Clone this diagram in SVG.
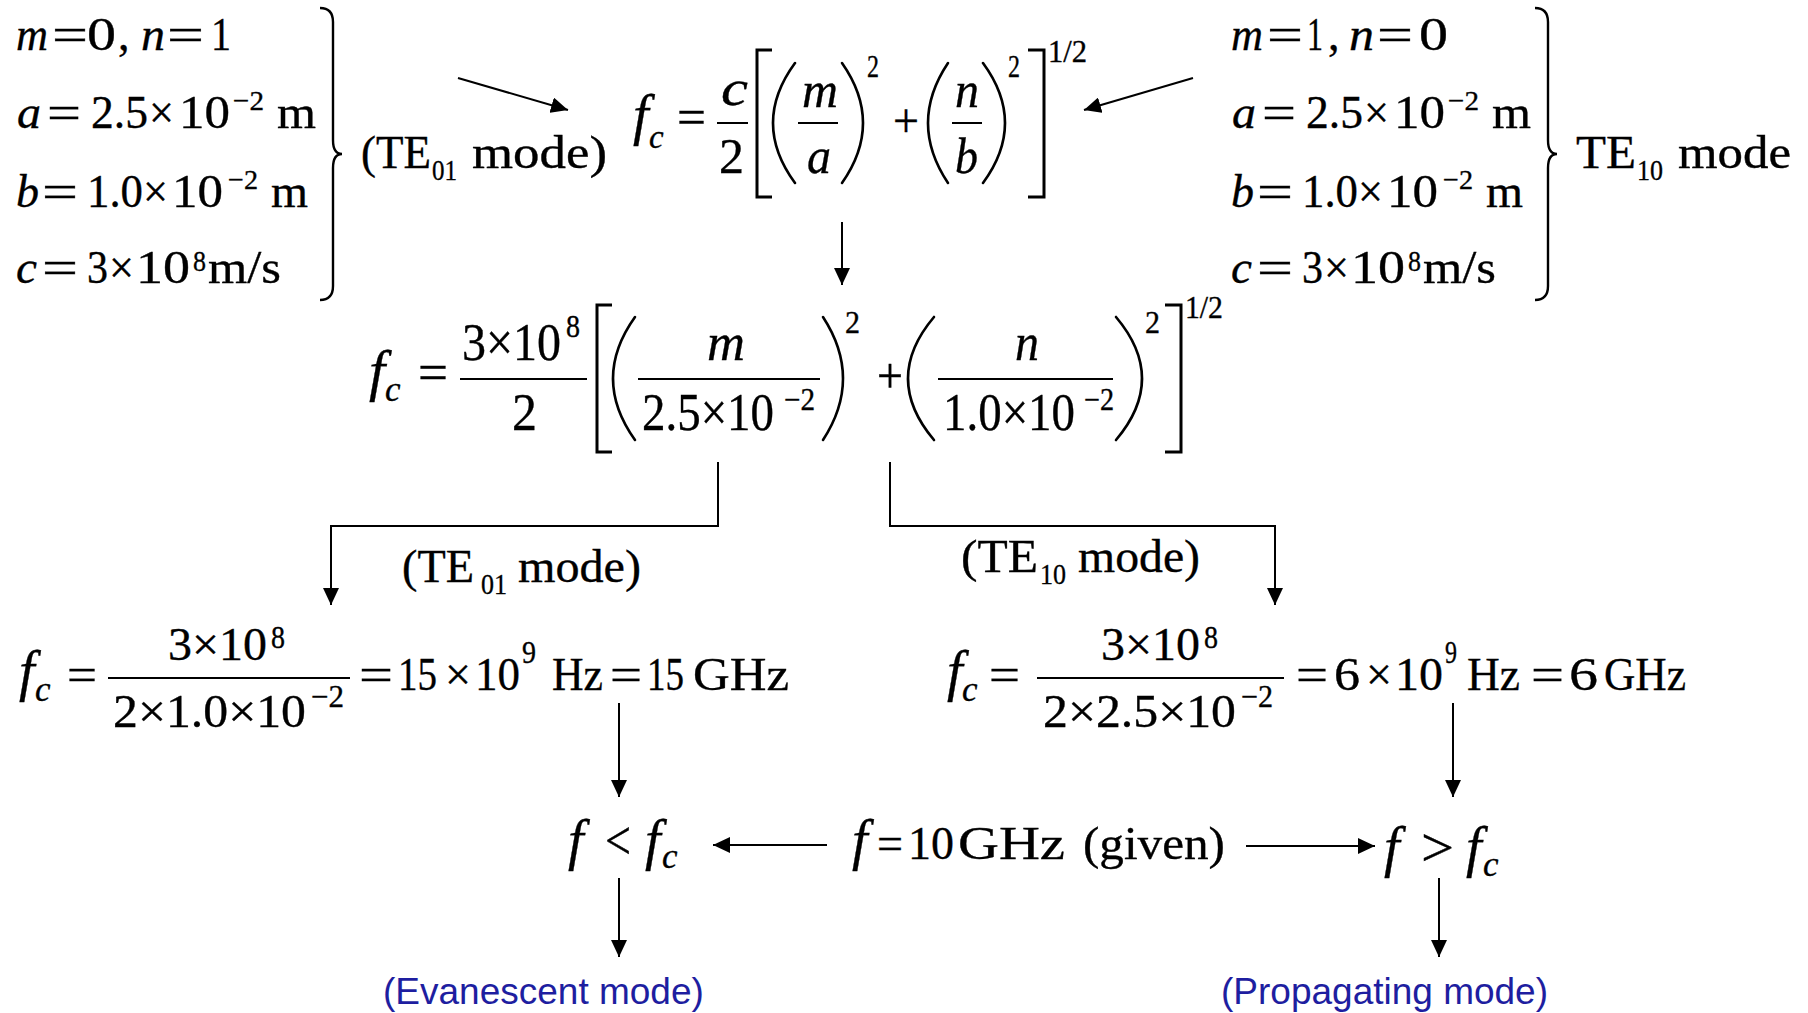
<svg xmlns="http://www.w3.org/2000/svg" width="1808" height="1013" viewBox="0 0 1808 1013">
<style>
.s{font-family:"Liberation Serif","Times New Roman",serif;fill:#000;stroke:#000;stroke-width:0.35}
.i{font-style:italic}
.blue{font-family:"Liberation Sans",Arial,sans-serif;fill:#1e1ea0;font-size:37px}
.ln{stroke:#000;stroke-width:2;fill:none}
.br{stroke:#000;stroke-width:3;fill:none}
.pa{stroke:#000;stroke-width:2.6;fill:none;stroke-linecap:round}
.bc{stroke:#000;stroke-width:2.4;fill:none}
</style>
<defs>
<marker id="ah" viewBox="0 0 17 16" refX="17" refY="8" markerWidth="17" markerHeight="16" markerUnits="userSpaceOnUse" orient="auto">
<path d="M0,0 L17,8 L0,16 z" fill="#000" stroke="none"/>
</marker>
</defs>
<rect width="1808" height="1013" fill="#fff"/>

<g id="params-te01" class="s" font-size="46">
<text x="16" y="50" class="i" textLength="32" lengthAdjust="spacingAndGlyphs">m</text>
<text x="52" y="50" textLength="36" lengthAdjust="spacingAndGlyphs">=</text>
<text x="87" y="50" textLength="29" lengthAdjust="spacingAndGlyphs">0</text>
<text x="118" y="50">,</text>
<text x="141" y="50" class="i" textLength="24" lengthAdjust="spacingAndGlyphs">n</text>
<text x="167" y="50" textLength="37" lengthAdjust="spacingAndGlyphs">=</text>
<text x="211" y="50" textLength="20" lengthAdjust="spacingAndGlyphs">1</text>
<text x="17" y="128" class="i" textLength="24" lengthAdjust="spacingAndGlyphs">a</text>
<text x="47" y="128" textLength="34" lengthAdjust="spacingAndGlyphs">=</text>
<text x="91" y="128" textLength="57" lengthAdjust="spacingAndGlyphs">2.5</text>
<text x="149" y="128" textLength="25" lengthAdjust="spacingAndGlyphs">×</text>
<text x="179" y="128" textLength="51" lengthAdjust="spacingAndGlyphs">10</text>
<text x="233" y="110" font-size="28" textLength="31" lengthAdjust="spacingAndGlyphs">−2</text>
<text x="277" y="128" textLength="39" lengthAdjust="spacingAndGlyphs">m</text>
<text x="16" y="207" class="i" textLength="23" lengthAdjust="spacingAndGlyphs">b</text>
<text x="42" y="207" textLength="36" lengthAdjust="spacingAndGlyphs">=</text>
<text x="87" y="207" textLength="56" lengthAdjust="spacingAndGlyphs">1.0</text>
<text x="143" y="207" textLength="25" lengthAdjust="spacingAndGlyphs">×</text>
<text x="172" y="207" textLength="51" lengthAdjust="spacingAndGlyphs">10</text>
<text x="228" y="189" font-size="28" textLength="30" lengthAdjust="spacingAndGlyphs">−2</text>
<text x="271" y="207" textLength="37" lengthAdjust="spacingAndGlyphs">m</text>
<text x="16" y="283" class="i" textLength="21" lengthAdjust="spacingAndGlyphs">c</text>
<text x="42" y="283" textLength="36" lengthAdjust="spacingAndGlyphs">=</text>
<text x="87" y="283" textLength="21" lengthAdjust="spacingAndGlyphs">3</text>
<text x="109" y="283" textLength="25" lengthAdjust="spacingAndGlyphs">×</text>
<text x="136" y="283" textLength="54" lengthAdjust="spacingAndGlyphs">10</text>
<text x="193" y="271" font-size="30" textLength="13" lengthAdjust="spacingAndGlyphs">8</text>
<text x="208" y="283" textLength="73" lengthAdjust="spacingAndGlyphs">m/s</text>
<path class="bc" d="M320,8 Q333,8 333,22 L333,140 Q333,154 342,154 Q333,154 333,168 L333,286 Q333,300 320,300"/>
<text x="361" y="168" textLength="70" lengthAdjust="spacingAndGlyphs">(TE</text>
<text x="432" y="180" font-size="30" textLength="25" lengthAdjust="spacingAndGlyphs">01</text>
<text x="472" y="168" textLength="135" lengthAdjust="spacingAndGlyphs">mode)</text>
</g>

<g id="params-te10" class="s" font-size="46">
<text x="1231" y="50" class="i" textLength="32" lengthAdjust="spacingAndGlyphs">m</text>
<text x="1267" y="50" textLength="36" lengthAdjust="spacingAndGlyphs">=</text>
<text x="1307" y="50" textLength="16" lengthAdjust="spacingAndGlyphs">1</text>
<text x="1328" y="50">,</text>
<text x="1349" y="50" class="i" textLength="25" lengthAdjust="spacingAndGlyphs">n</text>
<text x="1377" y="50" textLength="36" lengthAdjust="spacingAndGlyphs">=</text>
<text x="1419" y="50" textLength="29" lengthAdjust="spacingAndGlyphs">0</text>
<g transform="translate(1215,0)">
<text x="17" y="128" class="i" textLength="24" lengthAdjust="spacingAndGlyphs">a</text>
<text x="47" y="128" textLength="34" lengthAdjust="spacingAndGlyphs">=</text>
<text x="91" y="128" textLength="57" lengthAdjust="spacingAndGlyphs">2.5</text>
<text x="149" y="128" textLength="25" lengthAdjust="spacingAndGlyphs">×</text>
<text x="179" y="128" textLength="51" lengthAdjust="spacingAndGlyphs">10</text>
<text x="233" y="110" font-size="28" textLength="31" lengthAdjust="spacingAndGlyphs">−2</text>
<text x="277" y="128" textLength="39" lengthAdjust="spacingAndGlyphs">m</text>
<text x="16" y="207" class="i" textLength="23" lengthAdjust="spacingAndGlyphs">b</text>
<text x="42" y="207" textLength="36" lengthAdjust="spacingAndGlyphs">=</text>
<text x="87" y="207" textLength="56" lengthAdjust="spacingAndGlyphs">1.0</text>
<text x="143" y="207" textLength="25" lengthAdjust="spacingAndGlyphs">×</text>
<text x="172" y="207" textLength="51" lengthAdjust="spacingAndGlyphs">10</text>
<text x="228" y="189" font-size="28" textLength="30" lengthAdjust="spacingAndGlyphs">−2</text>
<text x="271" y="207" textLength="37" lengthAdjust="spacingAndGlyphs">m</text>
<text x="16" y="283" class="i" textLength="21" lengthAdjust="spacingAndGlyphs">c</text>
<text x="42" y="283" textLength="36" lengthAdjust="spacingAndGlyphs">=</text>
<text x="87" y="283" textLength="21" lengthAdjust="spacingAndGlyphs">3</text>
<text x="109" y="283" textLength="25" lengthAdjust="spacingAndGlyphs">×</text>
<text x="136" y="283" textLength="54" lengthAdjust="spacingAndGlyphs">10</text>
<text x="193" y="271" font-size="30" textLength="13" lengthAdjust="spacingAndGlyphs">8</text>
<text x="208" y="283" textLength="73" lengthAdjust="spacingAndGlyphs">m/s</text>
<path class="bc" d="M320,8 Q333,8 333,22 L333,140 Q333,154 342,154 Q333,154 333,168 L333,286 Q333,300 320,300"/>
</g>
<text x="1576" y="168" textLength="60" lengthAdjust="spacingAndGlyphs">TE</text>
<text x="1637" y="180" font-size="30" textLength="26" lengthAdjust="spacingAndGlyphs">10</text>
<text x="1678" y="168" textLength="113" lengthAdjust="spacingAndGlyphs">mode</text>
</g>

<g id="formula-general" class="s" font-size="51">
<text x="633" y="134" class="i" font-size="56">f</text>
<text x="649" y="148" class="i" font-size="33">c</text>
<text x="677" y="134" textLength="29" lengthAdjust="spacingAndGlyphs">=</text>
<text x="721" y="105" class="i" textLength="27" lengthAdjust="spacingAndGlyphs">c</text>
<line class="ln" x1="717" y1="123" x2="748" y2="123"/>
<text x="719" y="173" textLength="25" lengthAdjust="spacingAndGlyphs">2</text>
<path class="br" d="M772,50 H757 V197 H772"/>
<path class="pa" d="M795,63 Q751,123 795,183"/>
<text x="802" y="107" class="i" textLength="36" lengthAdjust="spacingAndGlyphs">m</text>
<line class="ln" x1="798" y1="123" x2="838" y2="123"/>
<text x="807" y="173" class="i" textLength="24" lengthAdjust="spacingAndGlyphs">a</text>
<path class="pa" d="M842,63 Q884,123 842,183"/>
<text x="867" y="77" font-size="32" textLength="12" lengthAdjust="spacingAndGlyphs">2</text>
<text x="893" y="137" font-size="48" textLength="26" lengthAdjust="spacingAndGlyphs">+</text>
<path class="pa" d="M948,63 Q908,123 948,183"/>
<text x="955" y="107" class="i" textLength="24" lengthAdjust="spacingAndGlyphs">n</text>
<line class="ln" x1="952" y1="123" x2="982" y2="123"/>
<text x="955" y="173" class="i" textLength="23" lengthAdjust="spacingAndGlyphs">b</text>
<path class="pa" d="M983,63 Q1027,123 983,183"/>
<text x="1008" y="77" font-size="32" textLength="12" lengthAdjust="spacingAndGlyphs">2</text>
<path class="br" d="M1028,50 H1044 V197 H1028"/>
<text x="1048" y="62" font-size="31" textLength="39" lengthAdjust="spacingAndGlyphs">1/2</text>
</g>

<g id="formula-substituted" class="s" font-size="53">
<text x="369" y="390" class="i" font-size="58">f</text>
<text x="385" y="401" class="i" font-size="35">c</text>
<text x="418" y="390" textLength="30" lengthAdjust="spacingAndGlyphs">=</text>
<text x="462" y="360" textLength="99" lengthAdjust="spacingAndGlyphs">3×10</text>
<text x="566" y="337" font-size="31" textLength="14" lengthAdjust="spacingAndGlyphs">8</text>
<line class="ln" x1="460" y1="379" x2="587" y2="379"/>
<text x="512" y="430" textLength="25" lengthAdjust="spacingAndGlyphs">2</text>
<path class="br" d="M612,305 H597 V452 H612"/>
<path class="pa" d="M635,317 Q591,378.5 635,440"/>
<text x="707" y="360" class="i" textLength="38" lengthAdjust="spacingAndGlyphs">m</text>
<line class="ln" x1="638" y1="379" x2="820" y2="379"/>
<text x="642" y="430" textLength="132" lengthAdjust="spacingAndGlyphs">2.5×10</text>
<text x="784" y="410" font-size="31" textLength="31" lengthAdjust="spacingAndGlyphs">−2</text>
<path class="pa" d="M823,317 Q863,378.5 823,440"/>
<text x="845" y="333" font-size="31" textLength="15" lengthAdjust="spacingAndGlyphs">2</text>
<text x="877" y="393" font-size="50" textLength="26" lengthAdjust="spacingAndGlyphs">+</text>
<path class="pa" d="M934,317 Q882,378.5 934,440"/>
<text x="1015" y="360" class="i" textLength="24" lengthAdjust="spacingAndGlyphs">n</text>
<line class="ln" x1="938" y1="379" x2="1113" y2="379"/>
<text x="943" y="430" textLength="132" lengthAdjust="spacingAndGlyphs">1.0×10</text>
<text x="1084" y="410" font-size="31" textLength="30" lengthAdjust="spacingAndGlyphs">−2</text>
<path class="pa" d="M1116,317 Q1168,378.5 1116,440"/>
<text x="1145" y="333" font-size="31" textLength="15" lengthAdjust="spacingAndGlyphs">2</text>
<path class="br" d="M1165,305 H1181 V452 H1165"/>
<text x="1185" y="318" font-size="31" textLength="38" lengthAdjust="spacingAndGlyphs">1/2</text>
</g>

<g id="label-te01" class="s" font-size="47">
<text x="402" y="582" textLength="72" lengthAdjust="spacingAndGlyphs">(TE</text>
<text x="481" y="594" font-size="30" textLength="26" lengthAdjust="spacingAndGlyphs">01</text>
<text x="518" y="582" textLength="123" lengthAdjust="spacingAndGlyphs">mode)</text>
</g>
<g id="label-te10" class="s" font-size="47">
<text x="961" y="572" textLength="77" lengthAdjust="spacingAndGlyphs">(TE</text>
<text x="1040" y="584" font-size="30" textLength="26" lengthAdjust="spacingAndGlyphs">10</text>
<text x="1078" y="572" textLength="122" lengthAdjust="spacingAndGlyphs">mode)</text>
</g>

<g id="fc-te01" class="s" font-size="47">
<text x="19" y="690" class="i" font-size="56">f</text>
<text x="35" y="701" class="i" font-size="35">c</text>
<text x="67" y="690" textLength="30" lengthAdjust="spacingAndGlyphs">=</text>
<text x="168" y="660" textLength="99" lengthAdjust="spacingAndGlyphs">3×10</text>
<text x="271" y="648" font-size="31" textLength="14" lengthAdjust="spacingAndGlyphs">8</text>
<line class="ln" x1="108" y1="678" x2="350" y2="678"/>
<text x="113" y="727" textLength="193" lengthAdjust="spacingAndGlyphs">2×1.0×10</text>
<text x="311" y="707" font-size="31" textLength="33" lengthAdjust="spacingAndGlyphs">−2</text>
<text x="359" y="690" textLength="34" lengthAdjust="spacingAndGlyphs">=</text>
<text x="398" y="690" textLength="39" lengthAdjust="spacingAndGlyphs">15</text>
<text x="445" y="690" textLength="26" lengthAdjust="spacingAndGlyphs">×</text>
<text x="475" y="690" textLength="45" lengthAdjust="spacingAndGlyphs">10</text>
<text x="522" y="663" font-size="31" textLength="14" lengthAdjust="spacingAndGlyphs">9</text>
<text x="552" y="690" textLength="51" lengthAdjust="spacingAndGlyphs">Hz</text>
<text x="610" y="690" textLength="32" lengthAdjust="spacingAndGlyphs">=</text>
<text x="647" y="690" textLength="37" lengthAdjust="spacingAndGlyphs">15</text>
<text x="693" y="690" textLength="96" lengthAdjust="spacingAndGlyphs">GHz</text>
</g>

<g id="fc-te10" class="s" font-size="47">
<text x="947" y="690" class="i" font-size="56">f</text>
<text x="962" y="701" class="i" font-size="35">c</text>
<text x="989" y="690" textLength="31" lengthAdjust="spacingAndGlyphs">=</text>
<text x="1101" y="660" textLength="99" lengthAdjust="spacingAndGlyphs">3×10</text>
<text x="1204" y="648" font-size="31" textLength="14" lengthAdjust="spacingAndGlyphs">8</text>
<line class="ln" x1="1037" y1="678" x2="1284" y2="678"/>
<text x="1043" y="727" textLength="193" lengthAdjust="spacingAndGlyphs">2×2.5×10</text>
<text x="1241" y="707" font-size="31" textLength="32" lengthAdjust="spacingAndGlyphs">−2</text>
<text x="1296" y="690" textLength="32" lengthAdjust="spacingAndGlyphs">=</text>
<text x="1334" y="690" textLength="26" lengthAdjust="spacingAndGlyphs">6</text>
<text x="1366" y="690" textLength="26" lengthAdjust="spacingAndGlyphs">×</text>
<text x="1395" y="690" textLength="48" lengthAdjust="spacingAndGlyphs">10</text>
<text x="1445" y="663" font-size="31" textLength="12" lengthAdjust="spacingAndGlyphs">9</text>
<text x="1467" y="690" textLength="53" lengthAdjust="spacingAndGlyphs">Hz</text>
<text x="1531" y="690" textLength="33" lengthAdjust="spacingAndGlyphs">=</text>
<text x="1569" y="690" textLength="29" lengthAdjust="spacingAndGlyphs">6</text>
<text x="1604" y="690" textLength="82" lengthAdjust="spacingAndGlyphs">GHz</text>
</g>

<g id="cmp-less" class="s" font-size="47">
<text x="568" y="859" class="i" font-size="56">f</text>
<text x="605" y="859" font-size="54" textLength="26" lengthAdjust="spacingAndGlyphs">&lt;</text>
<text x="645" y="859" class="i" font-size="56">f</text>
<text x="662" y="868" class="i" font-size="35">c</text>
</g>
<g id="given" class="s" font-size="47">
<text x="852" y="859" class="i" font-size="56">f</text>
<text x="877" y="859" textLength="26" lengthAdjust="spacingAndGlyphs">=</text>
<text x="908" y="859" textLength="46" lengthAdjust="spacingAndGlyphs">10</text>
<text x="958" y="859" textLength="107" lengthAdjust="spacingAndGlyphs">GHz</text>
<text x="1083" y="859" textLength="142" lengthAdjust="spacingAndGlyphs">(given)</text>
</g>
<g id="cmp-greater" class="s" font-size="47">
<text x="1384" y="866" class="i" font-size="56">f</text>
<text x="1421" y="866" font-size="54" textLength="33" lengthAdjust="spacingAndGlyphs">&gt;</text>
<text x="1466" y="866" class="i" font-size="56">f</text>
<text x="1483" y="876" class="i" font-size="35">c</text>
</g>

<g id="evanescent"><text class="blue" x="383" y="1004">(Evanescent mode)</text></g>
<g id="propagating"><text class="blue" x="1221" y="1004">(Propagating mode)</text></g>

<g id="connectors">
<line class="ln" x1="458" y1="78" x2="568" y2="110" marker-end="url(#ah)"/>
<line class="ln" x1="1193" y1="78" x2="1084" y2="110" marker-end="url(#ah)"/>
<line class="ln" x1="842" y1="222" x2="842" y2="285" marker-end="url(#ah)"/>
<path class="ln" d="M718,462 V526 H331 V605" marker-end="url(#ah)"/>
<path class="ln" d="M890,462 V526 H1275 V605" marker-end="url(#ah)"/>
<line class="ln" x1="619" y1="703" x2="619" y2="797" marker-end="url(#ah)"/>
<line class="ln" x1="1453" y1="703" x2="1453" y2="797" marker-end="url(#ah)"/>
<line class="ln" x1="827" y1="845" x2="713" y2="845" marker-end="url(#ah)"/>
<line class="ln" x1="1246" y1="846" x2="1375" y2="846" marker-end="url(#ah)"/>
<line class="ln" x1="619" y1="878" x2="619" y2="957" marker-end="url(#ah)"/>
<line class="ln" x1="1439" y1="878" x2="1439" y2="957" marker-end="url(#ah)"/>
</g>
</svg>
